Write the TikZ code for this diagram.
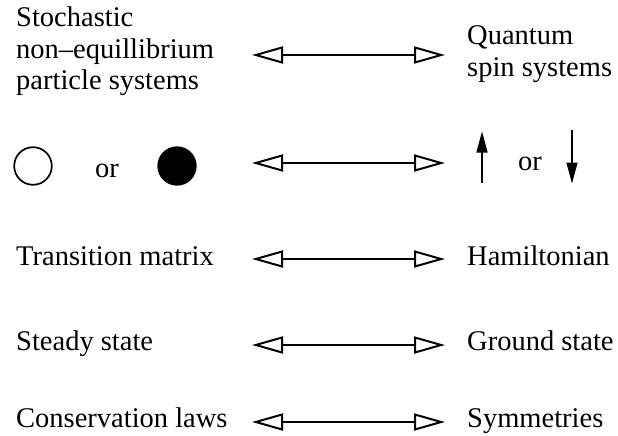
\documentclass[tikz,border=0pt]{standalone}
\usepackage{fontspec}
\setmainfont{Liberation Serif}
\usetikzlibrary{arrows.meta}
\begin{document}
\begin{tikzpicture}[x=1pt,y=-1pt,
  lbl/.style={anchor=base west, inner sep=0pt, font=\fontsize{28.5}{31}\selectfont},
  dbl/.style={{Triangle[open,length=31pt,width=17pt]}-{Triangle[open,length=31pt,width=17pt]}, line width=2pt},
  spin/.style={-{Triangle[length=21pt,width=11pt]}, line width=1.4pt},
  particle/.style={circle, draw, line width=1.7pt, minimum size=37.6pt, inner sep=0pt}]
\useasboundingbox (0,0) rectangle (618,436);
% left column
\node[lbl] (s1) at (16,27) {Stochastic};
\node[lbl] (s2) at (16,58.5) {non–equillibrium};
\node[lbl] (s3) at (16,89.5) {particle systems};
\node[particle] (empty) at (33,166) {};
\node[lbl] (or1) at (95,177) {or};
\node[particle, fill=black] (full) at (177,166) {};
\node[lbl] (tm) at (16,265) {Transition matrix};
\node[lbl] (ss) at (16,350) {Steady state};
\node[lbl] (cl) at (16,427) {Conservation laws};
% right column
\node[lbl] (q1) at (467,45) {Quantum};
\node[lbl] (q2) at (467,76) {spin systems};
\coordinate (u0) at (482,183);
\coordinate (u1) at (482,131.5);
\node[lbl] (or2) at (518,170) {or};
\coordinate (d0) at (572,130);
\coordinate (d1) at (572,183.5);
\node[lbl] (ham) at (467,265) {Hamiltonian};
\node[lbl] (gs) at (467,350) {Ground state};
\node[lbl] (sym) at (467,427) {Symmetries};
% spin arrows
\draw[spin] (u0) -- (u1);
\draw[spin] (d0) -- (d1);
% correspondence arrows
\coordinate (a1) at (252,55);  \coordinate (b1) at (445,55);
\coordinate (a2) at (252,163); \coordinate (b2) at (445,163);
\coordinate (a3) at (252,259); \coordinate (b3) at (445,259);
\coordinate (a4) at (252,345); \coordinate (b4) at (445,345);
\coordinate (a5) at (252,422); \coordinate (b5) at (445,422);
\foreach \i in {1,...,5} {\draw[dbl] (a\i) -- (b\i);}
\end{tikzpicture}
\end{document}
